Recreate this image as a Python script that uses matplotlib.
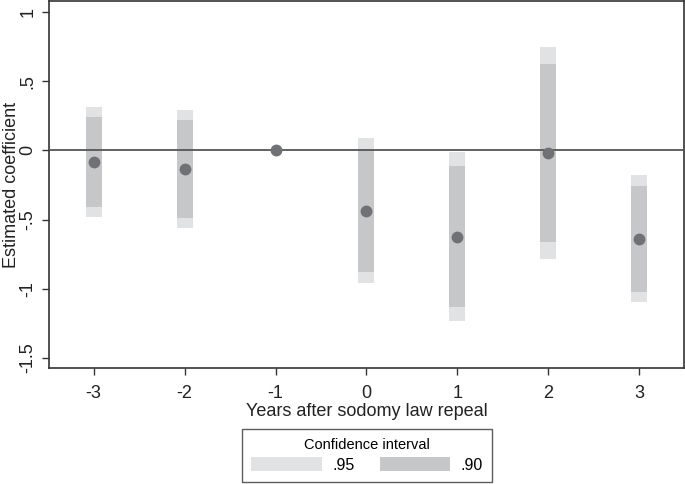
import matplotlib
matplotlib.use("Agg")
import matplotlib.pyplot as plt
from matplotlib.patches import Patch

plt.rcParams['font.family'] = ['Liberation Sans', 'DejaVu Sans']

# event-time coefficients
years = [-3, -2, -1, 0, 1, 2, 3]
coef = [-0.084, -0.134, 0.0, -0.435, -0.623, -0.021, -0.640]
ci95_lo = [-0.479, -0.559, 0.0, -0.960, -1.233, -0.787, -1.098]
ci95_hi = [0.311, 0.292, 0.0, 0.092, -0.012, 0.749, -0.180]
ci90_lo = [-0.411, -0.491, 0.0, -0.876, -1.134, -0.660, -1.021]
ci90_hi = [0.244, 0.220, 0.0, 0.003, -0.113, 0.622, -0.257]
yticks = [1, 0.5, 0, -0.5, -1, -1.5]
ytick_labels = ['1', '.5', '0', '-.5', '-1', '-1.5']

c95 = '#e1e2e4'
c90 = '#c6c7c9'
cdot = '#707174'

fig = plt.figure(figsize=(6.85, 4.84), dpi=100)
ax = fig.add_axes([0.0715, 0.2397, 0.927, 0.7583])

w = 0.176
for x, lo, hi in zip(years, ci95_lo, ci95_hi):
    if hi > lo:
        ax.bar(x, hi - lo, bottom=lo, width=w, color=c95, linewidth=0, zorder=1)
for x, lo, hi in zip(years, ci90_lo, ci90_hi):
    if hi > lo:
        ax.bar(x, hi - lo, bottom=lo, width=w, color=c90, linewidth=0, zorder=2)

ax.axhline(0, color='#555555', linewidth=1.3, zorder=3)
ax.plot(years, coef, 'o', color=cdot, markersize=7.5, zorder=4)

ax.set_xlim(-3.49, 3.49)
ax.set_ylim(-1.572, 1.079)
ax.set_xticks(years)
ax.set_xticklabels([str(y) for y in years])
ax.set_yticks(yticks)
ax.set_yticklabels(ytick_labels, rotation=90, va='center')
ax.tick_params(labelsize=13, length=5, width=1, color='#333333', labelcolor='#222222')
ax.tick_params(axis='x', pad=7)
ax.tick_params(axis='y', pad=4)
for s in ax.spines.values():
    s.set_color('#333333')
    s.set_linewidth(1.2)

ax.set_xlabel('Years after sodomy law repeal', fontsize=13, color='#222222', labelpad=1)
ax.set_ylabel('Estimated coefficient', fontsize=13, color='#222222')
ax.yaxis.set_label_coords(-0.046, 0.5)

handles = [Patch(facecolor=c95, edgecolor='none', label='.95'),
           Patch(facecolor=c90, edgecolor='none', label='.90')]
leg = fig.legend(handles=handles, ncol=2, title='Confidence interval',
                 loc='center', bbox_to_anchor=(0.536, 0.059),
                 fontsize=11.5, title_fontsize=10.5, frameon=True, fancybox=False,
                 handlelength=4.4, handleheight=0.95, columnspacing=1.6,
                 handletextpad=0.65, borderpad=0.6, borderaxespad=0, labelspacing=0.3)
leg.get_frame().set_edgecolor('#333333')
leg.get_frame().set_linewidth(1.0)

fig.savefig('out.png', dpi=100)
